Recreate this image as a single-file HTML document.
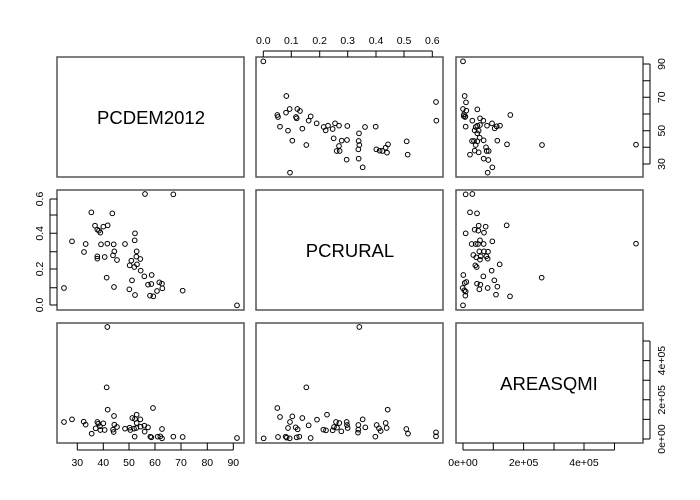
<!DOCTYPE html>
<html><head><style>body{margin:0;background:#fff}svg{display:block}text{font-family:"Liberation Sans",Arial,sans-serif;fill:#000}</style></head>
<body>
<svg width="700" height="500" viewBox="0 0 700 500" xmlns="http://www.w3.org/2000/svg">
<rect width="700" height="500" fill="#fff"/>
<g fill="none" stroke="#555" stroke-width="1.5">
<rect x="57" y="57" width="187" height="120"/>
<rect x="256" y="57" width="187" height="120"/>
<rect x="456" y="57" width="187" height="120"/>
<rect x="57" y="190" width="187" height="120"/>
<rect x="256" y="190" width="187" height="120"/>
<rect x="456" y="190" width="187" height="120"/>
<rect x="57" y="323" width="187" height="120"/>
<rect x="256" y="323" width="187" height="120"/>
<rect x="456" y="323" width="187" height="120"/>
</g>
<g font-size="18.5" text-anchor="middle">
<text x="151" y="124">PCDEM2012</text>
<text x="350" y="257">PCRURAL</text>
<text x="549" y="390">AREASQMI</text>
</g>
<g stroke="#000" stroke-width="1" fill="none">
<!-- top axis col2 -->
<path d="M263.3 57V51M291.3 57V51M319.7 57V51M347.7 57V51M376 57V51M404 57V51M432.3 57V51M263.3 51H432.3"/>
<!-- right axis row1 -->
<path d="M643 64H650M643 80.7H650M643 97.3H650M643 114H650M643 130.7H650M643 147.3H650M643 164H650M650 64V164"/>
<!-- left axis row2 -->
<path d="M57 199H50M57 215H50M57 233.3H50M57 251.7H50M57 269H50M57 287.7H50M57 305H50M50 199V305"/>
<!-- right axis row3 -->
<path d="M643 439H650M643 419.4H650M643 399.8H650M643 380.2H650M643 360.6H650M643 341H650M650 341V439"/>
<!-- bottom col1 -->
<path d="M77.3 443V450M103.3 443V450M129 443V450M155 443V450M181 443V450M207.3 443V450M233.3 443V450M77.3 450H233.3"/>
<!-- bottom col3 -->
<path d="M463 443V450M493.3 443V450M523.6 443V450M554 443V450M584 443V450M614.5 443V450M463 450H614.5"/>
</g>
<g font-size="10.5" text-anchor="middle">
<text x="263.3" y="44">0.0</text><text x="291.3" y="44">0.1</text><text x="319.7" y="44">0.2</text><text x="347.7" y="44">0.3</text><text x="376" y="44">0.4</text><text x="404" y="44">0.5</text><text x="432.3" y="44">0.6</text>
<text x="77.3" y="466">30</text><text x="103.3" y="466">40</text><text x="129" y="466">50</text><text x="155" y="466">60</text><text x="181" y="466">70</text><text x="207.3" y="466">80</text><text x="233.3" y="466">90</text>
<text x="463" y="466">0e+00</text><text x="523.6" y="466">2e+05</text><text x="584" y="466">4e+05</text>
<text transform="translate(665,64) rotate(-90)">90</text>
<text transform="translate(665,97.3) rotate(-90)">70</text>
<text transform="translate(665,130.7) rotate(-90)">50</text>
<text transform="translate(665,164) rotate(-90)">30</text>
<text transform="translate(43,199) rotate(-90)">0.6</text>
<text transform="translate(43,233.3) rotate(-90)">0.4</text>
<text transform="translate(43,269) rotate(-90)">0.2</text>
<text transform="translate(43,305) rotate(-90)">0.0</text>
<text transform="translate(665,439) rotate(-90)">0e+00</text>
<text transform="translate(665,399.8) rotate(-90)">2e+05</text>
<text transform="translate(665,360.6) rotate(-90)">4e+05</text>
</g>
<g fill="none" stroke="#000" stroke-width="3">
<g transform="translate(55,188) scale(0.33333)">
<circle cx="270" cy="18" r="7"/><circle cx="355" cy="19" r="7"/><circle cx="109" cy="73" r="7"/><circle cx="172" cy="76" r="7"/><circle cx="120" cy="113" r="7"/><circle cx="145" cy="116" r="7"/><circle cx="158" cy="112" r="7"/><circle cx="127" cy="125" r="7"/><circle cx="132" cy="128" r="7"/><circle cx="136" cy="134" r="7"/><circle cx="240" cy="136" r="7"/><circle cx="51" cy="160" r="7"/><circle cx="92" cy="168" r="7"/><circle cx="138" cy="169" r="7"/><circle cx="157" cy="167" r="7"/><circle cx="176" cy="169" r="7"/><circle cx="210" cy="168" r="7"/><circle cx="239" cy="157" r="7"/><circle cx="178" cy="190" r="7"/><circle cx="245" cy="190" r="7"/><circle cx="87" cy="192" r="7"/><circle cx="127" cy="205" r="7"/><circle cx="127" cy="212" r="7"/><circle cx="149" cy="207" r="7"/><circle cx="174" cy="202" r="7"/><circle cx="186" cy="216" r="7"/><circle cx="244" cy="206" r="7"/><circle cx="229" cy="218" r="7"/><circle cx="256" cy="213" r="7"/><circle cx="224" cy="232" r="7"/><circle cx="238" cy="237" r="7"/><circle cx="246" cy="229" r="7"/><circle cx="257" cy="248" r="7"/><circle cx="268" cy="265" r="7"/><circle cx="290" cy="261" r="7"/><circle cx="155" cy="269" r="7"/><circle cx="231" cy="277" r="7"/><circle cx="313" cy="283" r="7"/><circle cx="321" cy="287" r="7"/><circle cx="279" cy="290" r="7"/><circle cx="289" cy="288" r="7"/><circle cx="27" cy="300" r="7"/><circle cx="177" cy="297" r="7"/><circle cx="223" cy="304" r="7"/><circle cx="322" cy="301" r="7"/><circle cx="306" cy="309" r="7"/><circle cx="383" cy="308" r="7"/><circle cx="240" cy="321" r="7"/><circle cx="285" cy="323" r="7"/><circle cx="295" cy="325" r="7"/><circle cx="546" cy="352" r="7"/>
</g>
<g transform="translate(254,55) scale(0.33333)">
<circle cx="28" cy="19" r="7"/><circle cx="97" cy="123" r="7"/><circle cx="107" cy="162" r="7"/><circle cx="130" cy="162" r="7"/><circle cx="138" cy="168" r="7"/><circle cx="96" cy="173" r="7"/><circle cx="70" cy="180" r="7"/><circle cx="72" cy="186" r="7"/><circle cx="126" cy="186" r="7"/><circle cx="128" cy="190" r="7"/><circle cx="170" cy="184" r="7"/><circle cx="164" cy="197" r="7"/><circle cx="188" cy="205" r="7"/><circle cx="78" cy="215" r="7"/><circle cx="102" cy="227" r="7"/><circle cx="145" cy="221" r="7"/><circle cx="209" cy="216" r="7"/><circle cx="222" cy="212" r="7"/><circle cx="215" cy="226" r="7"/><circle cx="236" cy="222" r="7"/><circle cx="243" cy="205" r="7"/><circle cx="255" cy="212" r="7"/><circle cx="280" cy="213" r="7"/><circle cx="333" cy="216" r="7"/><circle cx="365" cy="215" r="7"/><circle cx="315" cy="235" r="7"/><circle cx="239" cy="250" r="7"/><circle cx="263" cy="257" r="7"/><circle cx="279" cy="255" r="7"/><circle cx="115" cy="257" r="7"/><circle cx="157" cy="270" r="7"/><circle cx="314" cy="258" r="7"/><circle cx="316" cy="270" r="7"/><circle cx="255" cy="273" r="7"/><circle cx="248" cy="288" r="7"/><circle cx="257" cy="288" r="7"/><circle cx="313" cy="283" r="7"/><circle cx="367" cy="283" r="7"/><circle cx="377" cy="287" r="7"/><circle cx="385" cy="288" r="7"/><circle cx="395" cy="278" r="7"/><circle cx="402" cy="268" r="7"/><circle cx="399" cy="293" r="7"/><circle cx="458" cy="259" r="7"/><circle cx="461" cy="299" r="7"/><circle cx="546" cy="141" r="7"/><circle cx="547" cy="197" r="7"/><circle cx="278" cy="314" r="7"/><circle cx="314" cy="311" r="7"/><circle cx="326" cy="337" r="7"/><circle cx="108" cy="353" r="7"/>
</g>
<g transform="translate(454,55) scale(0.33333)">
<circle cx="27" cy="19" r="7"/><circle cx="32" cy="123" r="7"/><circle cx="36" cy="142" r="7"/><circle cx="27" cy="162" r="7"/><circle cx="37" cy="167" r="7"/><circle cx="70" cy="163" r="7"/><circle cx="30" cy="178" r="7"/><circle cx="33" cy="186" r="7"/><circle cx="29" cy="183" r="7"/><circle cx="34" cy="185" r="7"/><circle cx="55" cy="197" r="7"/><circle cx="78" cy="190" r="7"/><circle cx="88" cy="197" r="7"/><circle cx="35" cy="215" r="7"/><circle cx="65" cy="216" r="7"/><circle cx="70" cy="212" r="7"/><circle cx="78" cy="210" r="7"/><circle cx="62" cy="226" r="7"/><circle cx="74" cy="227" r="7"/><circle cx="99" cy="212" r="7"/><circle cx="114" cy="205" r="7"/><circle cx="122" cy="220" r="7"/><circle cx="128" cy="214" r="7"/><circle cx="138" cy="212" r="7"/><circle cx="169" cy="180" r="7"/><circle cx="70" cy="235" r="7"/><circle cx="77" cy="248" r="7"/><circle cx="54" cy="258" r="7"/><circle cx="60" cy="258" r="7"/><circle cx="70" cy="259" r="7"/><circle cx="89" cy="256" r="7"/><circle cx="130" cy="257" r="7"/><circle cx="65" cy="270" r="7"/><circle cx="96" cy="277" r="7"/><circle cx="98" cy="288" r="7"/><circle cx="62" cy="287" r="7"/><circle cx="74" cy="292" r="7"/><circle cx="104" cy="288" r="7"/><circle cx="48" cy="299" r="7"/><circle cx="159" cy="268" r="7"/><circle cx="264" cy="270" r="7"/><circle cx="546" cy="269" r="7"/><circle cx="89" cy="311" r="7"/><circle cx="103" cy="315" r="7"/><circle cx="115" cy="337" r="7"/><circle cx="101" cy="353" r="7"/>
</g>
<g transform="translate(454,188) scale(0.33333)">
<circle cx="35" cy="19" r="7"/><circle cx="55" cy="18" r="7"/><circle cx="48" cy="73" r="7"/><circle cx="69" cy="76" r="7"/><circle cx="158" cy="112" r="7"/><circle cx="74" cy="113" r="7"/><circle cx="95" cy="116" r="7"/><circle cx="62" cy="125" r="7"/><circle cx="73" cy="128" r="7"/><circle cx="90" cy="134" r="7"/><circle cx="35" cy="136" r="7"/><circle cx="78" cy="157" r="7"/><circle cx="53" cy="168" r="7"/><circle cx="65" cy="168" r="7"/><circle cx="72" cy="168" r="7"/><circle cx="89" cy="168" r="7"/><circle cx="115" cy="160" r="7"/><circle cx="76" cy="190" r="7"/><circle cx="90" cy="190" r="7"/><circle cx="102" cy="191" r="7"/><circle cx="58" cy="201" r="7"/><circle cx="67" cy="208" r="7"/><circle cx="80" cy="205" r="7"/><circle cx="97" cy="205" r="7"/><circle cx="101" cy="212" r="7"/><circle cx="78" cy="215" r="7"/><circle cx="64" cy="232" r="7"/><circle cx="68" cy="237" r="7"/><circle cx="137" cy="229" r="7"/><circle cx="113" cy="248" r="7"/><circle cx="28" cy="261" r="7"/><circle cx="88" cy="265" r="7"/><circle cx="263" cy="269" r="7"/><circle cx="121" cy="277" r="7"/><circle cx="32" cy="285" r="7"/><circle cx="37" cy="282" r="7"/><circle cx="69" cy="287" r="7"/><circle cx="79" cy="290" r="7"/><circle cx="26" cy="300" r="7"/><circle cx="31" cy="307" r="7"/><circle cx="35" cy="311" r="7"/><circle cx="76" cy="304" r="7"/><circle cx="101" cy="300" r="7"/><circle cx="130" cy="296" r="7"/><circle cx="34" cy="323" r="7"/><circle cx="126" cy="320" r="7"/><circle cx="168" cy="325" r="7"/><circle cx="27" cy="352" r="7"/><circle cx="546" cy="167" r="7"/>
</g>
<g transform="translate(55,321) scale(0.33333)">
<circle cx="157" cy="18" r="7"/><circle cx="155" cy="199" r="7"/><circle cx="158" cy="266" r="7"/><circle cx="294" cy="261" r="7"/><circle cx="177" cy="285" r="7"/><circle cx="27" cy="303" r="7"/><circle cx="51" cy="295" r="7"/><circle cx="86" cy="302" r="7"/><circle cx="92" cy="311" r="7"/><circle cx="110" cy="338" r="7"/><circle cx="127" cy="303" r="7"/><circle cx="130" cy="308" r="7"/><circle cx="145" cy="307" r="7"/><circle cx="135" cy="316" r="7"/><circle cx="122" cy="322" r="7"/><circle cx="136" cy="327" r="7"/><circle cx="149" cy="327" r="7"/><circle cx="178" cy="311" r="7"/><circle cx="186" cy="318" r="7"/><circle cx="174" cy="326" r="7"/><circle cx="176" cy="333" r="7"/><circle cx="210" cy="323" r="7"/><circle cx="224" cy="320" r="7"/><circle cx="226" cy="327" r="7"/><circle cx="232" cy="291" r="7"/><circle cx="245" cy="281" r="7"/><circle cx="240" cy="294" r="7"/><circle cx="256" cy="295" r="7"/><circle cx="245" cy="306" r="7"/><circle cx="257" cy="317" r="7"/><circle cx="244" cy="321" r="7"/><circle cx="237" cy="323" r="7"/><circle cx="268" cy="314" r="7"/><circle cx="279" cy="319" r="7"/><circle cx="269" cy="332" r="7"/><circle cx="239" cy="347" r="7"/><circle cx="286" cy="347" r="7"/><circle cx="289" cy="349" r="7"/><circle cx="308" cy="347" r="7"/><circle cx="316" cy="346" r="7"/><circle cx="321" cy="352" r="7"/><circle cx="321" cy="324" r="7"/><circle cx="355" cy="347" r="7"/><circle cx="383" cy="348" r="7"/><circle cx="546" cy="351" r="7"/>
</g>
<g transform="translate(254,321) scale(0.33333)">
<circle cx="316" cy="18" r="7"/><circle cx="157" cy="199" r="7"/><circle cx="70" cy="261" r="7"/><circle cx="401" cy="266" r="7"/><circle cx="78" cy="288" r="7"/><circle cx="115" cy="286" r="7"/><circle cx="145" cy="291" r="7"/><circle cx="189" cy="296" r="7"/><circle cx="219" cy="281" r="7"/><circle cx="108" cy="303" r="7"/><circle cx="164" cy="313" r="7"/><circle cx="102" cy="321" r="7"/><circle cx="125" cy="319" r="7"/><circle cx="131" cy="325" r="7"/><circle cx="208" cy="326" r="7"/><circle cx="216" cy="328" r="7"/><circle cx="236" cy="328" r="7"/><circle cx="240" cy="318" r="7"/><circle cx="246" cy="303" r="7"/><circle cx="256" cy="306" r="7"/><circle cx="249" cy="320" r="7"/><circle cx="262" cy="331" r="7"/><circle cx="278" cy="303" r="7"/><circle cx="279" cy="312" r="7"/><circle cx="281" cy="321" r="7"/><circle cx="313" cy="312" r="7"/><circle cx="326" cy="295" r="7"/><circle cx="334" cy="319" r="7"/><circle cx="313" cy="326" r="7"/><circle cx="312" cy="335" r="7"/><circle cx="368" cy="312" r="7"/><circle cx="375" cy="322" r="7"/><circle cx="380" cy="330" r="7"/><circle cx="395" cy="306" r="7"/><circle cx="398" cy="321" r="7"/><circle cx="457" cy="324" r="7"/><circle cx="462" cy="338" r="7"/><circle cx="546" cy="334" r="7"/><circle cx="546" cy="346" r="7"/><circle cx="364" cy="347" r="7"/><circle cx="29" cy="352" r="7"/><circle cx="72" cy="348" r="7"/><circle cx="95" cy="347" r="7"/><circle cx="98" cy="350" r="7"/><circle cx="107" cy="352" r="7"/><circle cx="128" cy="349" r="7"/><circle cx="136" cy="347" r="7"/><circle cx="170" cy="351" r="7"/>
</g>
</g>
</svg>
</body></html>
